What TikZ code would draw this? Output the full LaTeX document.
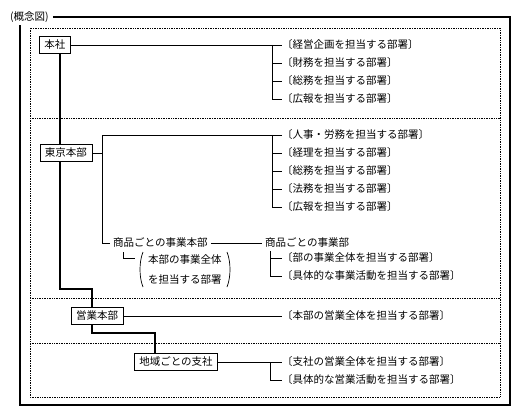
\documentclass[tikz,border=0pt]{standalone}
\usepackage{fontspec}
\setmainfont{Noto Sans CJK JP}

\begin{document}
\begin{tikzpicture}[x=1pt,y=-1pt,
  unit/.style={draw,line width=0.8pt,fill=white,font=\fontsize{10.5}{12}\selectfont,inner xsep=5pt,inner ysep=0pt,minimum height=17pt},
  dept/.style={anchor=west,inner sep=0pt,font=\fontsize{10.5}{12}\selectfont},
  label/.style={anchor=west,inner xsep=3pt,inner ysep=0pt,font=\fontsize{10.5}{12}\selectfont},
  link/.style={line width=0.7pt},
  trunk/.style={line width=2.2pt},
  frame/.style={line width=1.1pt},
  sep/.style={densely dotted,line width=0.7pt}]
\useasboundingbox (0,0) rectangle (523,420);
% outer frame and title
\node[label,inner xsep=4pt,inner ysep=2pt] (title) at (6,17) {(概念図)};
\coordinate (fr) at (510,405);
\coordinate (fl) at (20,405);
\draw[frame] (title.east) -| (fr) -- (fl) -- (fl |- title.south);
% dotted bands
\draw[sep] (30,28) rectangle (500,397);
\draw[sep] (30,118) -- (500,118);
\draw[sep] (30,298) -- (500,298);
\draw[sep] (30,343) -- (500,343);
% units
\node[unit] (honsha) at (55,45) {本社};
\node[unit] (tokyo) at (66,153) {東京本部};
\node[unit] (eigyo) at (97,316) {営業本部};
\node[unit] (shisha) at (176,362) {地域ごとの支社};
% head office
\node[dept] (h1) at (282,45) {〔経営企画を担当する部署〕};
\node[dept] (h2) at (282,63) {〔財務を担当する部署〕};
\node[dept] (h3) at (282,81) {〔総務を担当する部署〕};
\node[dept] (h4) at (282,99) {〔広報を担当する部署〕};
\coordinate (hk) at (272,45);
\draw[link] (honsha.east) -- (h1.west);
\draw[link] (hk) |- (h4.west);
\draw[link] (h2.west -| hk) -- (h2.west);
\draw[link] (h3.west -| hk) -- (h3.west);
% tokyo
\node[dept] (t1) at (282,135) {〔人事・労務を担当する部署〕};
\node[dept] (t2) at (282,153) {〔経理を担当する部署〕};
\node[dept] (t3) at (282,171) {〔総務を担当する部署〕};
\node[dept] (t4) at (282,189) {〔法務を担当する部署〕};
\node[dept] (t5) at (282,207) {〔広報を担当する部署〕};
\node[label] (jhb) at (110,243) {商品ごとの事業本部};
\node[label] (jb) at (262,243) {商品ごとの事業部};
\coordinate (tb) at (102,135);
\coordinate (tk) at (272,135);
\draw[link] (tokyo.east) -- (tokyo.east -| tb);
\draw[link] (t1.west) -| (tb) |- (jhb.west);
\draw[link] (tk) |- (t5.west);
\draw[link] (t2.west -| tk) -- (t2.west);
\draw[link] (t3.west -| tk) -- (t3.west);
\draw[link] (t4.west -| tk) -- (t4.west);
\draw[link] (jhb.east) -- (jb.west);
% business units
\node[label,inner xsep=0pt] (z1) at (148,260) {本部の事業全体};
\node[label,inner xsep=0pt] (z2) at (148,280) {を担当する部署};
\coordinate (zk) at (123,252);
\coordinate (ze) at (135,258);
\draw[link] (zk) |- (ze);
\draw[link] (143,252) .. controls (139,262) and (139,277) .. (143,287);
\draw[link] (227,252) .. controls (231,262) and (231,277) .. (227,287);
\node[dept] (j1) at (282,258) {〔部の事業全体を担当する部署〕};
\node[dept] (j2) at (282,276) {〔具体的な事業活動を担当する部署〕};
\coordinate (jk) at (270,251);
\draw[link] (jk) |- (j2.west);
\draw[link] (j1.west -| jk) -- (j1.west);
% sales
\node[dept] (e1) at (282,316) {〔本部の営業全体を担当する部署〕};
\draw[link] (eigyo.east) -- (e1.west);
\node[dept] (s1) at (282,362) {〔支社の営業全体を担当する部署〕};
\node[dept] (s2) at (282,380) {〔具体的な営業活動を担当する部署〕};
\coordinate (sk) at (270,362);
\draw[link] (shisha.east) -- (s1.west);
\draw[link] (sk) |- (s2.west);
% trunk
\coordinate (tk1) at (60,289);
\coordinate (tk2) at (92,289);
\coordinate (tk3) at (92,333);
\coordinate (tk4) at (155,333);
\draw[trunk] (honsha.south -| tk1) -- (tokyo.north -| tk1);
\draw[trunk] (tokyo.south -| tk1) -- (tk1) -- (tk2) -- (tk2 |- eigyo.north);
\draw[trunk] (eigyo.south -| tk3) -- (tk3) -- (tk4) -- (tk4 |- shisha.north);
\end{tikzpicture}
\end{document}
